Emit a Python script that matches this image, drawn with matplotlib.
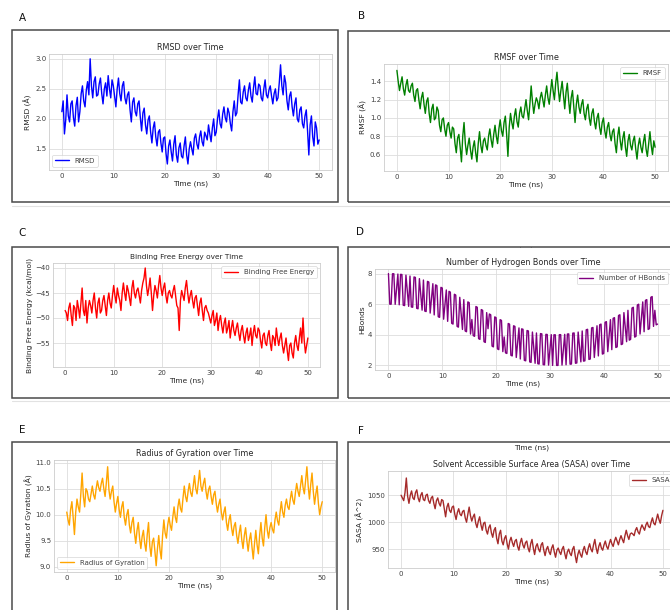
import numpy as np
import matplotlib
matplotlib.use("Agg")
import matplotlib.pyplot as plt
from matplotlib.patches import Rectangle
from matplotlib.lines import Line2D
import seaborn as sns

# time axis (ns), one sample every 0.25 ns
time_ns = np.arange(0, 50.25, 0.25)

rmsd = [2.12, 2.30, 1.75, 1.98, 2.40, 2.05, 1.95, 2.25, 2.30, 2.02, 1.88, 2.22, 2.36, 1.95, 2.12, 2.42, 2.55, 2.30, 2.20, 2.48,
        2.62, 2.40, 3.00, 2.55, 2.35, 2.62, 2.70, 2.38, 2.40, 2.58, 2.68, 2.42, 2.25, 2.50, 2.60, 2.38, 2.72, 2.50, 2.35, 2.65,
        2.55, 2.38, 2.20, 2.50, 2.68, 2.42, 2.30, 2.55, 2.62, 2.35, 2.25, 2.40, 2.45, 2.15, 1.95, 2.28, 2.35, 2.12, 2.05, 2.25,
        2.30, 2.02, 1.80, 2.10, 2.18, 1.90, 1.75, 1.98, 2.05, 1.78, 1.60, 1.85, 1.95, 1.70, 1.55, 1.78, 1.82, 1.60, 1.45, 1.68,
        1.70, 1.42, 1.25, 1.55, 1.65, 1.45, 1.30, 1.58, 1.72, 1.40, 1.28, 1.52, 1.60, 1.38, 1.35, 1.55, 1.70, 1.40, 1.25, 1.50,
        1.62, 1.50, 1.40, 1.68, 1.75, 1.58, 1.50, 1.70, 1.80, 1.62, 1.55, 1.78, 1.72, 1.65, 1.90, 1.75, 1.62, 1.85, 2.00, 1.72,
        1.78, 2.00, 2.15, 1.92, 1.85, 2.08, 2.20, 2.02, 1.95, 2.18, 2.10, 1.92, 1.80, 2.12, 2.30, 2.05, 2.10, 2.40, 2.65, 2.28,
        2.25, 2.45, 2.55, 2.35, 2.30, 2.48, 2.60, 2.38, 2.28, 2.52, 2.70, 2.42, 2.40, 2.58, 2.55, 2.35, 2.30, 2.50, 2.65, 2.40,
        2.35, 2.48, 2.55, 2.38, 2.25, 2.42, 2.50, 2.30, 2.35, 2.60, 2.90, 2.55, 2.40, 2.72, 2.60, 2.30, 2.15, 2.38, 2.45, 2.20,
        2.05, 2.25, 2.35, 2.00, 1.95, 2.15, 2.20, 1.92, 1.85, 2.05, 2.15, 1.80, 1.40, 1.90, 2.05, 1.70, 1.55, 1.95, 1.85, 1.58,
        1.65]

rmsf = [1.52, 1.40, 1.30, 1.38, 1.45, 1.32, 1.25, 1.36, 1.42, 1.30, 1.28, 1.35, 1.38, 1.25, 1.18, 1.30, 1.32, 1.20, 1.10, 1.22,
        1.28, 1.15, 1.05, 1.18, 1.22, 1.05, 0.95, 1.10, 1.15, 0.98, 1.00, 1.12, 1.08, 0.92, 0.85, 0.98, 1.00, 0.88, 0.80, 0.92,
        0.95, 0.85, 0.78, 0.90, 0.88, 0.72, 0.62, 0.78, 0.82, 0.68, 0.52, 0.80, 0.95, 0.72, 0.60, 0.70, 0.78, 0.65, 0.55, 0.68,
        0.75, 0.62, 0.52, 0.72, 0.85, 0.70, 0.62, 0.75, 0.78, 0.70, 0.65, 0.80, 0.88, 0.76, 0.68, 0.82, 0.92, 0.80, 0.72, 0.88,
        0.98, 0.86, 0.80, 0.95, 1.02, 0.82, 0.58, 0.90, 1.05, 0.95, 0.88, 1.02, 1.10, 0.96, 0.90, 1.05, 1.12, 1.02, 1.00, 1.10,
        1.20, 1.08, 0.98, 1.15, 1.35, 1.18, 1.05, 1.15, 1.22, 1.18, 1.10, 1.22, 1.28, 1.20, 1.12, 1.25, 1.35, 1.22, 1.15, 1.28,
        1.42, 1.30, 1.20, 1.38, 1.50, 1.32, 1.18, 1.30, 1.40, 1.25, 1.10, 1.28, 1.38, 1.20, 1.05, 1.22, 1.30, 1.12, 0.95, 1.15,
        1.25, 1.12, 1.05, 1.15, 1.20, 1.05, 0.98, 1.10, 1.15, 1.00, 0.92, 1.05, 1.10, 0.96, 0.88, 1.00, 1.05, 0.90, 0.82, 0.95,
        1.00, 0.86, 0.78, 0.90, 0.95, 0.82, 0.75, 0.85, 0.88, 0.72, 0.62, 0.80, 0.90, 0.75, 0.65, 0.78, 0.85, 0.68, 0.58, 0.75,
        0.82, 0.70, 0.65, 0.75, 0.80, 0.66, 0.55, 0.70, 0.78, 0.68, 0.62, 0.74, 0.82, 0.66, 0.58, 0.72, 0.85, 0.70, 0.60, 0.75,
        0.68]

binding_energy = [-48.5, -49.0, -50.5, -48.0, -47.0, -49.5, -51.5, -47.5, -48.0, -50.5, -46.5, -48.0, -50.0, -47.0, -44.0, -48.5, -49.5, -46.5, -51.0, -48.0,
                  -46.5, -47.5, -49.0, -46.5, -45.0, -48.0, -50.0, -47.0, -46.0, -49.0, -48.5, -46.5, -45.5, -47.5, -49.5, -46.5, -45.0, -47.0, -48.0, -45.5,
                  -43.5, -45.5, -47.0, -44.0, -45.5, -46.5, -48.5, -45.0, -43.0, -45.0, -46.5, -43.5, -44.5, -46.0, -47.5, -44.0, -42.5, -45.0, -46.0, -44.5,
                  -44.0, -45.5, -47.0, -44.5, -43.0, -42.0, -40.0, -43.5, -45.5, -44.0, -42.0, -45.0, -48.5, -45.5, -43.5, -44.5, -46.0, -43.5, -41.5, -44.0,
                  -45.5, -44.0, -43.0, -45.5, -47.0, -45.0, -44.5, -45.5, -46.0, -44.5, -43.5, -45.5, -47.5, -48.0, -52.5, -46.5, -44.5, -45.5, -46.5, -44.0,
                  -42.5, -45.0, -47.0, -45.5, -44.5, -46.5, -48.0, -46.0, -45.5, -47.5, -49.5, -47.0, -46.0, -48.5, -50.5, -48.0, -47.5, -48.5, -49.0, -50.0,
                  -51.0, -49.5, -48.5, -51.5, -50.5, -49.0, -52.5, -50.5, -49.5, -51.5, -53.0, -51.0, -50.0, -53.0, -52.0, -50.5, -54.0, -52.0, -50.5, -52.5,
                  -53.5, -52.0, -51.0, -53.0, -54.5, -52.5, -51.5, -53.5, -55.0, -53.0, -52.0, -54.5, -53.5, -52.0, -55.5, -53.0, -51.5, -53.5, -54.0, -52.0,
                  -52.5, -54.5, -56.0, -53.5, -53.0, -55.0, -55.5, -53.5, -52.5, -55.0, -56.5, -53.5, -54.0, -55.5, -52.0, -54.0, -55.5, -54.0, -53.0, -55.5,
                  -57.0, -55.5, -54.0, -56.5, -58.5, -55.5, -55.0, -57.0, -58.0, -55.0, -53.5, -55.5, -56.5, -54.0, -52.0, -55.0, -50.0, -54.5, -57.0, -55.5,
                  -54.0]

hbonds = [8.00, 6.00, 6.00, 7.99, 7.99, 5.99, 6.98, 7.97, 5.96, 7.95, 7.94, 5.93, 5.91, 7.90, 6.88, 5.86, 7.84, 5.82, 5.80, 7.78,
          7.75, 5.73, 5.70, 7.67, 6.64, 5.61, 7.58, 5.55, 5.52, 7.49, 7.45, 5.42, 6.38, 7.34, 5.30, 7.26, 7.22, 5.18, 5.14, 7.10,
          7.06, 5.02, 5.97, 6.93, 4.88, 6.84, 6.79, 4.75, 4.70, 6.65, 6.60, 4.55, 4.50, 6.45, 5.40, 4.35, 6.30, 4.25, 4.20, 6.15,
          6.10, 4.05, 5.00, 3.95, 3.90, 5.85, 5.80, 3.75, 3.70, 5.65, 5.60, 3.55, 3.50, 5.45, 4.40, 5.36, 5.31, 3.26, 3.21, 5.17,
          5.12, 3.08, 3.03, 4.99, 4.94, 2.90, 3.86, 2.82, 2.78, 4.74, 4.70, 2.66, 2.62, 4.59, 4.55, 2.52, 3.48, 4.45, 2.42, 4.39,
          4.36, 2.33, 2.30, 4.28, 4.25, 2.23, 2.20, 4.18, 3.16, 2.14, 4.12, 2.11, 2.09, 4.08, 4.06, 2.05, 2.04, 4.03, 4.02, 2.02,
          3.01, 4.01, 2.00, 4.00, 4.00, 2.00, 2.00, 4.01, 4.01, 2.02, 3.02, 4.03, 2.04, 4.05, 4.06, 2.08, 2.09, 4.11, 4.12, 2.14,
          2.16, 4.18, 3.20, 2.23, 4.25, 2.28, 2.30, 4.33, 4.36, 2.39, 2.42, 4.45, 4.48, 2.52, 3.55, 4.59, 2.62, 4.66, 4.70, 2.74,
          2.78, 4.82, 4.86, 2.90, 3.94, 4.99, 3.03, 5.08, 5.12, 3.17, 3.21, 5.26, 5.31, 3.36, 3.40, 5.45, 4.50, 3.55, 5.60, 3.65,
          3.70, 5.75, 5.80, 3.85, 3.90, 5.95, 6.00, 4.05, 5.10, 6.15, 4.20, 6.25, 6.30, 4.35, 4.40, 6.45, 6.50, 4.55, 5.60, 4.65,
          4.70]

rog = [10.05, 9.90, 9.80, 10.10, 10.25, 9.95, 9.62, 10.05, 10.30, 10.15, 10.05, 10.40, 10.80, 10.35, 10.15, 10.50, 10.45, 10.30, 10.25, 10.40,
       10.55, 10.38, 10.30, 10.50, 10.65, 10.52, 10.45, 10.60, 10.70, 10.50, 10.35, 10.62, 10.92, 10.48, 10.30, 10.45, 10.55, 10.25, 10.05, 10.22,
       10.35, 10.10, 9.95, 10.15, 10.25, 9.95, 9.80, 10.00, 10.10, 9.80, 9.65, 9.85, 9.95, 9.65, 9.45, 9.70, 9.85, 9.55, 9.35, 9.58,
       9.70, 9.45, 9.30, 9.62, 9.85, 9.40, 9.20, 9.48, 9.55, 9.30, 9.02, 9.35, 9.60, 9.32, 9.15, 9.60, 9.90, 9.65, 9.55, 9.80,
       9.95, 9.80, 9.70, 9.95, 10.15, 9.95, 9.85, 10.15, 10.30, 10.12, 10.05, 10.32, 10.55, 10.35, 10.25, 10.45, 10.60, 10.42, 10.35, 10.55,
       10.75, 10.50, 10.40, 10.62, 10.85, 10.55, 10.45, 10.60, 10.70, 10.45, 10.30, 10.48, 10.55, 10.35, 10.20, 10.38, 10.45, 10.22, 10.05, 10.20,
       10.30, 10.05, 9.90, 10.05, 10.15, 9.85, 9.70, 9.90, 10.00, 9.75, 9.60, 9.78, 9.85, 9.60, 9.45, 9.65, 9.80, 9.52, 9.35, 9.60,
       9.75, 9.50, 9.30, 9.52, 9.65, 9.38, 9.15, 9.45, 9.70, 9.42, 9.25, 9.60, 9.85, 9.55, 9.40, 9.75, 10.00, 9.70, 9.55, 9.75,
       9.85, 9.72, 9.65, 9.90, 10.05, 9.88, 9.80, 10.05, 10.25, 10.05, 9.95, 10.18, 10.30, 10.15, 10.10, 10.30, 10.45, 10.28, 10.20, 10.42,
       10.60, 10.45, 10.35, 10.55, 10.75, 10.52, 10.40, 10.65, 10.92, 10.55, 10.30, 10.58, 10.80, 10.45, 10.20, 10.40, 10.55, 10.22, 10.00, 10.15,
       10.25]

sasa = [1050, 1045, 1040, 1055, 1082, 1048, 1035, 1050, 1058, 1045, 1042, 1055, 1060, 1045, 1038, 1050, 1055, 1042, 1040, 1050,
        1052, 1040, 1035, 1045, 1048, 1035, 1025, 1040, 1045, 1035, 1030, 1042, 1040, 1025, 1010, 1028, 1035, 1022, 1018, 1028,
        1030, 1015, 1005, 1018, 1025, 1015, 1012, 1020, 1022, 1008, 1000, 1015, 1028, 1012, 1002, 1010, 1015, 998, 990, 1002,
        1010, 995, 985, 998, 1000, 985, 978, 990, 995, 980, 972, 985, 990, 970, 960, 978, 985, 965, 958, 970,
        975, 960, 950, 965, 972, 962, 955, 965, 968, 955, 948, 962, 970, 958, 952, 962, 965, 952, 945, 960,
        968, 952, 940, 955, 960, 950, 945, 958, 962, 948, 938, 950, 955, 945, 940, 952, 958, 945, 935, 948,
        952, 945, 940, 950, 955, 942, 932, 945, 950, 942, 938, 950, 955, 938, 925, 940, 948, 940, 935, 948,
        955, 945, 940, 952, 960, 950, 945, 958, 968, 952, 942, 955, 962, 952, 948, 958, 965, 955, 950, 960,
        968, 960, 955, 965, 972, 965, 958, 968, 975, 968, 962, 975, 985, 975, 968, 978, 980, 978, 975, 985,
        990, 982, 978, 988, 995, 990, 985, 995, 1000, 992, 990, 1000, 1008, 998, 995, 1005, 1015, 1005, 998, 1012,
        1022]

x_ticks = [0, 10, 20, 30, 40, 50]

W, H = 670, 610

sns.set_style("whitegrid")
plt.rcParams['font.family'] = ['DejaVu Sans']

fig = plt.figure(figsize=(W / 100, H / 100), dpi=100)


def px_rect(l, t, r, b):
    # pixel box -> figure fraction [left, bottom, width, height]
    return [l / W, 1 - b / H, (r - l) / W, (b - t) / H]


def frame(l, t, r, b):
    rect = Rectangle((l / W, 1 - b / H), (r - l) / W, (b - t) / H,
                     transform=fig.transFigure, fill=False,
                     edgecolor='#4a4a4a', linewidth=1.1)
    fig.patches.append(rect)
    return rect


def panel(letter, lpos, box, axpos, y, color, title, ylabel, label,
          ylim, yticks, loc, tsize=5.8):
    fig.text(lpos[0] / W, 1 - lpos[1] / H, letter, fontsize=7.5,
             ha='center', va='center', color='#111111')
    rect = frame(*box)
    ax = fig.add_axes(px_rect(*axpos))
    ax.plot(time_ns, y, color=color, linewidth=1.0, label=label)
    ax.set_xlim(-2.5, 52.5)
    ax.set_ylim(*ylim)
    ax.set_xticks(x_ticks)
    ax.set_yticks(yticks)
    ax.set_title(title, fontsize=tsize, color='#262626', pad=3)
    ax.set_xlabel('Time (ns)', fontsize=5.4, color='#262626', labelpad=1)
    ax.set_ylabel(ylabel, fontsize=5.4, color='#262626', labelpad=2)
    ax.tick_params(labelsize=5.0, colors='#404040', pad=2, length=0)
    ax.grid(True, color='#dddddd', linewidth=0.6)
    for s in ax.spines.values():
        s.set_color('#cccccc')
        s.set_linewidth(0.6)
    leg = ax.legend(loc=loc, fontsize=5.0, frameon=True, handlelength=2.0,
                    borderpad=0.4, labelcolor='#404040')
    leg.get_frame().set_edgecolor('#cccccc')
    leg.get_frame().set_linewidth(0.5)
    return ax, rect


panel('A', (22, 18), (12, 30, 338, 202), (49, 54, 332, 170), rmsd, 'blue',
      'RMSD over Time', 'RMSD (Å)', 'RMSD', (1.15, 3.08),
      [1.5, 2.0, 2.5, 3.0], 'lower left')
panel('B', (362, 16), (348, 31, 690, 202), (384, 64, 668, 171), rmsf, 'green',
      'RMSF over Time', 'RMSF (Å)', 'RMSF', (0.42, 1.59),
      [0.6, 0.8, 1.0, 1.2, 1.4], 'upper right')
panel('C', (22, 233), (12, 247, 338, 398), (53, 263, 320, 367), binding_energy, 'red',
      'Binding Free Energy over Time', 'Binding Free Energy (kcal/mol)',
      'Binding Free Energy', (-59.8, -39.0), [-55, -50, -45, -40],
      'upper right', tsize=5.3)
axD, rectD = panel('D', (360, 232), (348, 247, 690, 398), (375, 269, 671, 370), hbonds,
                   'purple', 'Number of Hydrogen Bonds over Time', 'HBonds',
                   'Number of HBonds', (1.7, 8.3), [2, 4, 6, 8], 'upper right')
panel('E', (22, 430), (12, 442, 337, 640), (54, 460, 335, 572), rog, 'orange',
      'Radius of Gyration over Time', 'Radius of Gyration (Å)',
      'Radius of Gyration', (8.9, 11.05), [9.0, 9.5, 10.0, 10.5, 11.0], 'lower left')
panel('F', (361, 431), (348, 442, 690, 640), (388, 471, 676, 568), sasa, 'brown',
      'Solvent Accessible Surface Area (SASA) over Time', 'SASA (Å^2)',
      'SASA', (915, 1095), [950, 1000, 1050], 'upper right', tsize=5.7)

# leftovers of the stitched screenshots
fig.text(532 / W, 1 - 448 / H, 'Time (ns)', fontsize=5.4, color='#262626',
         ha='center', va='center')
cut = fig.text(516 / W, 1 - 244 / H, 'Time (ns)', fontsize=5.4, color='#262626',
               ha='center', va='center')
cut.set_clip_on(True)
cut.set_clip_path(rectD)
for yy in (206, 401):
    fig.lines.append(Line2D([12 / W, 1], [1 - yy / H, 1 - yy / H],
                            transform=fig.transFigure, color='#e2e2e2', linewidth=0.8))

fig.savefig('out.png', dpi=100)
